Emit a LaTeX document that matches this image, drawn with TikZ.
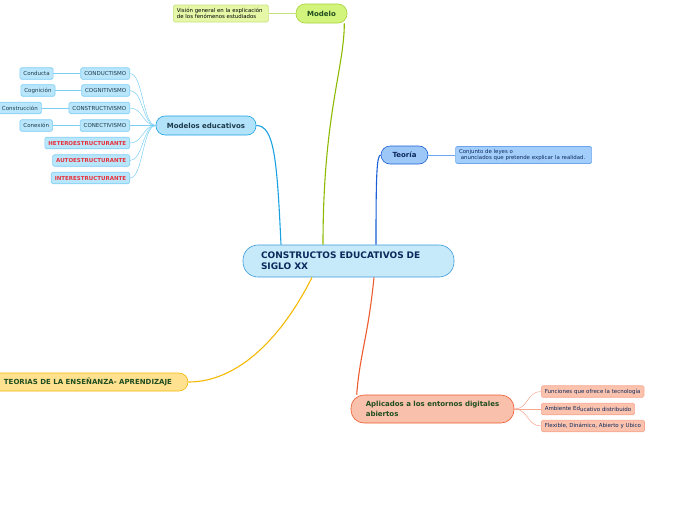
\documentclass[tikz,border=0pt]{standalone}
\usepackage{fontspec}
\setmainfont{DejaVu Sans}
\usetikzlibrary{positioning, calc}
\definecolor{cRoot}{HTML}{C7EAFB}
\definecolor{cRootD}{HTML}{3A9AD9}
\definecolor{cRootT}{HTML}{0B2A5B}
\definecolor{cMod}{HTML}{D2F37C}
\definecolor{cModD}{HTML}{A6D23C}
\definecolor{cModE}{HTML}{8DBA00}
\definecolor{cModL}{HTML}{E6F7A8}
\definecolor{cModLD}{HTML}{C5E27A}
\definecolor{cGreenT}{HTML}{1F4D1F}
\definecolor{cEdu}{HTML}{B3E3FA}
\definecolor{cEduD}{HTML}{1BA1E2}
\definecolor{cLeaf}{HTML}{B9E6FB}
\definecolor{cLeafD}{HTML}{7DCEF4}
\definecolor{cLeafT}{HTML}{1E3A4A}
\definecolor{cRed}{HTML}{E8323C}
\definecolor{cTeo}{HTML}{9CC7F7}
\definecolor{cTeoD}{HTML}{1A5FD6}
\definecolor{cTeoL}{HTML}{A3CDFB}
\definecolor{cTeoLD}{HTML}{6DA6EE}
\definecolor{cYel}{HTML}{FFE18F}
\definecolor{cYelD}{HTML}{F5B800}
\definecolor{cApl}{HTML}{F9C0AC}
\definecolor{cAplD}{HTML}{EE5B2E}
\definecolor{cAplL}{HTML}{FBC2AE}
\definecolor{cAplLD}{HTML}{F6A58E}

\begin{document}
\begin{tikzpicture}[x=1pt, y=-1pt,
    every node/.style={inner ysep=0pt, line width=0.6pt},
    root/.style={draw=cRootD, fill=cRoot, text=cRootT, rounded corners=15pt,
                 minimum height=32pt, inner xsep=18pt, text width=175pt, align=left,
                 font=\bfseries\fontsize{9}{11}\selectfont},
    branch/.style={rounded corners=9pt, minimum height=19pt, align=left,
                   font=\bfseries\fontsize{7}{9.5}\selectfont},
    leaf/.style={draw=cLeafD, fill=cLeaf, text=cLeafT, rounded corners=1.5pt,
                 minimum height=11.5pt, inner xsep=3.5pt, font=\fontsize{5.5}{6.5}\selectfont},
    redleaf/.style={leaf, text=cRed, font=\bfseries\fontsize{5.5}{6.5}\selectfont},
    note/.style={rounded corners=1.5pt, inner xsep=3.5pt, align=left,
                 font=\fontsize{5.4}{6.2}\selectfont},
    link/.style={line width=0.5pt}]

    \useasboundingbox (0,0) rectangle (696,520);

    % Nodes
    \node[root] (cen) at (348.5,261) {CONSTRUCTOS EDUCATIVOS DE\\SIGLO XX};

    \node[branch, draw=cModD, fill=cMod, text=cGreenT, minimum width=51pt] (modelo) at (321.5,13.5) {Modelo};
    \node[note, draw=cModLD, fill=cModL, text width=88pt, minimum height=17pt, left=27pt of modelo] (vision)
        {Visión general en la explicación\\de los fenómenos estudiados};

    \node[branch, draw=cEduD, fill=cEdu, text=cLeafT, minimum width=100pt] (edu) at (206,125.5) {Modelos educativos};
    \node[leaf, anchor=east] (cond) at (130,73.5) {CONDUCTISMO};
    \node[leaf, anchor=east] (cogn) at (130,90.5) {COGNITIVISMO};
    \node[leaf, anchor=east] (cons) at (130,108) {CONSTRUCTIVISMO};
    \node[leaf, anchor=east] (cone) at (130,125.5) {CONECTIVISMO};
    \node[redleaf, anchor=east] (hete) at (130,143) {HETEROESTRUCTURANTE};
    \node[redleaf, anchor=east] (auto) at (130,160.5) {AUTOESTRUCTURANTE};
    \node[redleaf, anchor=east] (inte) at (130,178) {INTERESTRUCTURANTE};
    \node[leaf, left=27pt of cond] (conducta) {Conducta};
    \node[leaf, left=26pt of cogn] (cognicion) {Cognición};
    \node[leaf, left=27pt of cons] (construccion) {Construcción};
    \node[leaf, left=27pt of cone] (conexion) {Conexión};

    \node[branch, draw=cTeoD, fill=cTeo, text=cRootT, minimum width=47pt, minimum height=18pt] (teoria) at (404.5,155) {Teoría};
    \node[note, draw=cTeoLD, fill=cTeoL, text=cRootT, text width=129pt, minimum height=17pt, right=27pt of teoria] (conj)
        {Conjunto de leyes o\\\ anunciados que pretende explicar la realidad.};

    \node[branch, draw=cYelD, fill=cYel, text=cGreenT, minimum width=200pt, minimum height=18pt, align=center,
          font=\bfseries\fontsize{7}{9}\selectfont] (teorias) at (88,382)
        {TEORIAS DE LA ENSEÑANZA- APRENDIZAJE};

    \node[branch, draw=cAplD, fill=cApl, text=cGreenT, rounded corners=13pt, minimum height=28pt,
          minimum width=163pt] (apl) at (432.5,409)
        {Aplicados a los entornos digitales\\abiertos};
    \node[leaf, draw=cAplLD, fill=cAplL, text=cRootT, anchor=west] (func) at (541,391.5) {Funciones que ofrece la tecnología};
    \node[leaf, draw=cAplLD, fill=cAplL, text=cRootT, anchor=west] (amb) at (541,409)
        {Ambiente Ed\raisebox{-1.2pt}{ucativo distribuido}};
    \node[leaf, draw=cAplLD, fill=cAplL, text=cRootT, anchor=west] (flex) at (541,426) {Flexible, Dinámico, Abierto y Ubico};

    % Edges
    \draw[cModE, line width=1.1pt] ([xshift=-25.5pt]cen.north) .. controls +(0,-130) and +(0,45) .. ([xshift=-3pt]modelo.south east);
    \draw[cEduD, line width=1.1pt] ([xshift=-67.5pt]cen.north) .. controls +(-4,-85) and +(18,0) .. (edu.east);
    \draw[cTeoD, line width=1.1pt] ([xshift=27.5pt]cen.north) .. controls +(0,-70) and +(-4,0) .. (teoria.west);
    \draw[cYelD, line width=1.1pt] ([xshift=-36.5pt]cen.south) .. controls +(-30,60) and +(50,0) .. (teorias.east);
    \draw[cAplD, line width=1.1pt] ([xshift=25.5pt]cen.south) .. controls +(-6,60) and +(3,-40) .. ([xshift=6pt]apl.north west);

    \draw[link, cModLD] (modelo.west) -- (vision.east);
    \draw[link, cTeoLD] (teoria.east) -- (conj.west);

    \foreach \n in {cond, cogn, cons, cone, hete, auto, inte}
        \draw[link, cLeafD] (edu.west) .. controls +(-13,0) and +(13,0) .. (\n.east);
    \draw[link, cLeafD] (cond.west) -- (conducta.east);
    \draw[link, cLeafD] (cogn.west) -- (cognicion.east);
    \draw[link, cLeafD] (cons.west) -- (construccion.east);
    \draw[link, cLeafD] (cone.west) -- (conexion.east);

    \foreach \n in {func, amb, flex}
        \draw[link, cAplLD] (apl.east) .. controls +(14,0) and +(-14,0) .. (\n.west);

\end{tikzpicture}
\end{document}
